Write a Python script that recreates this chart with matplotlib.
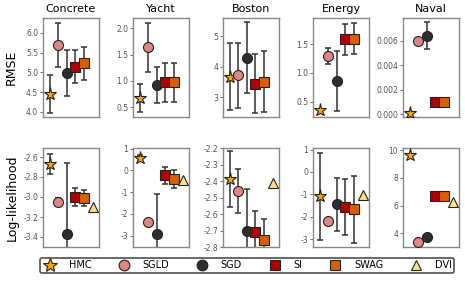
import numpy as np
import matplotlib
matplotlib.use('Agg')
import matplotlib.pyplot as plt
from matplotlib.ticker import FormatStrFormatter
from matplotlib.lines import Line2D

datasets = ['Concrete', 'Yacht', 'Boston', 'Energy', 'Naval']
methods = ['HMC', 'SGLD', 'SGD', 'SI', 'SWAG', 'DVI']

nan = np.nan
# RMSE (mean, error) per dataset, order follows methods
rmse_mean = [[4.46, 5.70, 4.98, 5.14, 5.23, nan],
             [0.67, 1.64, 0.92, 0.97, 0.97, nan],
             [3.68, 3.72, 4.30, 3.45, 3.51, nan],
             [0.36, 1.30, 0.86, 1.59, 1.60, nan],
             [0.0001, 0.0060, 0.0064, 0.0010, 0.0010, nan]]
rmse_err = [[0.48, 0.55, 0.58, 0.42, 0.42, nan],
            [0.27, 0.47, 0.35, 0.37, 0.37, nan],
            [1.10, 1.07, 1.15, 0.97, 1.00, nan],
            [0.0, 0.14, 0.52, 0.27, 0.27, nan],
            [0.0, 0.0, 0.0011, 0.0, 0.0, nan]]

# log-likelihood (mean, error)
ll_mean = [[-2.67, -3.05, -3.37, -3.00, -3.01, -3.10],
           [0.59, -2.37, -2.90, -0.23, -0.38, -0.46],
           [-2.386, -2.46, -2.706, -2.71, -2.756, -2.41],
           [-1.09, -2.17, -1.45, -1.55, -1.67, -1.01],
           [9.69, 3.37, 3.73, 6.69, 6.69, 6.26]]
ll_err = [[0.10, 0.04, 0.71, 0.09, 0.08, 0.0],
          [0.14, 0.0, 1.80, 0.40, 0.42, 0.0],
          [0.17, 0.135, 0.26, 0.13, 0.125, 0.0],
          [1.95, 0.0, 1.17, 1.25, 1.48, 0.0],
          [0.0, 0.0, 0.0, 0.0, 0.0, 0.0]]

rmse_ylim = [(3.87, 6.38), (0.31, 2.2), (2.36, 5.59), (0.23, 1.96), (-0.00022, 0.00785)]
ll_ylim = [(-3.5, -2.51), (-3.52, 1.03), (-2.8, -2.2), (-3.35, 1.07), (3.0, 10.17)]
rmse_ticks = [[4.0, 4.5, 5.0, 5.5, 6.0], [0.5, 1.0, 1.5, 2.0], [3, 4, 5],
              [0.5, 1.0, 1.5], [0.0, 0.002, 0.004, 0.006]]
ll_ticks = [[-3.4, -3.2, -3.0, -2.8, -2.6], [-3, -2, -1, 0, 1],
            [-2.8, -2.7, -2.6, -2.5, -2.4, -2.3, -2.2], [-3, -2, -1, 0, 1], [4, 6, 8, 10]]
rmse_fmt = ['%.1f', '%.1f', '%d', '%.1f', '%.3f']
ll_fmt = ['%.1f', '%d', '%.1f', '%d', '%d']

colors = ['#FFA500', '#E08585', '#2E2E2E', '#B00000', '#D95F02', '#FFE082']
markers = ['*', 'o', 'o', 's', 's', '^']
sizes = [9.5, 7.2, 7.2, 7, 7, 7]

fig = plt.figure(figsize=(4.65, 2.81), dpi=100)

lefts = [43, 133, 223, 313, 403]
W, H = 465.0, 281.0


def draw(ax, means, errs, ylim, ticks, fmt):
    for i in range(len(methods)):
        m = means[i]
        if np.isnan(m):
            continue
        e = errs[i]
        if e > 0:
            ax.errorbar(i, m, yerr=e, fmt='none', ecolor='#333333',
                        elinewidth=1.1, capsize=2, capthick=1.1, zorder=2)
        ax.plot(i, m, marker=markers[i], color=colors[i], markersize=sizes[i],
                markeredgecolor='#222222', markeredgewidth=0.8, linestyle='none',
                zorder=3 + i)
    ax.set_xlim(-0.8, 5.75)
    ax.set_ylim(*ylim)
    ax.set_xticks([])
    ax.set_yticks(ticks)
    ax.yaxis.set_major_formatter(FormatStrFormatter(fmt))
    ax.tick_params(axis='y', labelsize=5.5, labelcolor='#555555', color='#555555',
                   length=2, width=0.6, pad=1.5)
    for s in ax.spines.values():
        s.set_color('#888888')
        s.set_linewidth(1.0)


for j, name in enumerate(datasets):
    ax = fig.add_axes([lefts[j] / W, 1 - 117 / H, 56 / W, 99 / H])
    draw(ax, rmse_mean[j], rmse_err[j], rmse_ylim[j], rmse_ticks[j], rmse_fmt[j])
    ax.set_title(name, fontsize=8, pad=4)
    if j == 0:
        ax.set_ylabel('RMSE', fontsize=9, labelpad=6)

    ax = fig.add_axes([lefts[j] / W, 1 - 247 / H, 56 / W, 99 / H])
    draw(ax, ll_mean[j], ll_err[j], ll_ylim[j], ll_ticks[j], ll_fmt[j])
    if j == 0:
        ax.set_ylabel('Log-likelihood', fontsize=9, labelpad=3)

handles = [Line2D([], [], marker=markers[i], color=colors[i], markersize=sizes[i] + 0.5,
                  markeredgecolor='#222222', markeredgewidth=0.8, linestyle='none')
           for i in range(len(methods))]
leg = fig.legend(handles, methods, loc='center', ncol=6,
                 bbox_to_anchor=(40 / W, 1 - 275 / H, 414 / W, 19 / H),
                 mode='expand', fontsize=7, frameon=True, fancybox=True,
                 handletextpad=1.2, columnspacing=1.0, borderpad=0.25,
                 handlelength=1.5, borderaxespad=0)
leg.get_frame().set_edgecolor('#222222')
leg.get_frame().set_linewidth(1.2)

fig.savefig('out.png', dpi=100)
